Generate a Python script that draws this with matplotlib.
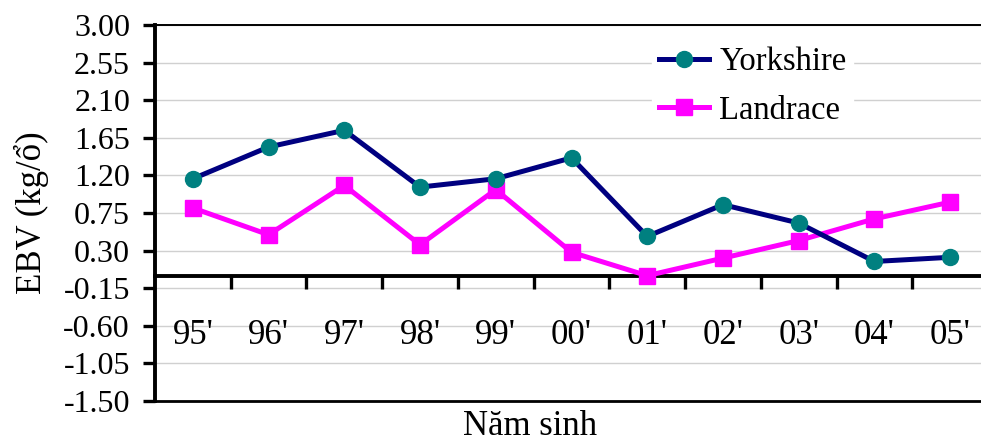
import matplotlib
matplotlib.use("Agg")
import matplotlib.pyplot as plt
import numpy as np

plt.rcParams['font.family'] = ['Liberation Serif', 'DejaVu Serif']

years = ["95'", "96'", "97'", "98'", "99'", "00'", "01'", "02'", "03'", "04'", "05'"]
yorkshire = [1.16, 1.54, 1.74, 1.06, 1.16, 1.41, 0.47, 0.85, 0.63, 0.17, 0.22]
landrace = [0.81, 0.49, 1.08, 0.37, 1.03, 0.28, 0.00, 0.21, 0.42, 0.68, 0.88]
yticks = [3.00, 2.55, 2.10, 1.65, 1.20, 0.75, 0.30, -0.15, -0.60, -1.05, -1.50]

fig = plt.figure(figsize=(9.81, 4.43), dpi=100)
ax = fig.add_axes([155 / 981, 1 - 401 / 443, 833 / 981, 376 / 443])

x = np.arange(len(years))
ax.plot(x, yorkshire, color='#000080', lw=3.6, marker='o', ms=11.5,
        mfc='#008080', mec='#008080', label='Yorkshire', zorder=4)
ax.plot(x, landrace, color='#FF00FF', lw=3.6, marker='s', ms=12,
        mfc='#FF00FF', mec='#FF00FF', label='Landrace', zorder=3)

ax.set_xlim(-0.5, len(years) - 0.5)
ax.set_ylim(-1.5, 3.0)
ax.set_yticks(yticks)
ax.set_yticklabels([f"{v:.2f}" for v in yticks])
ax.yaxis.grid(True, color='#D0D0D0', lw=1)
ax.set_axisbelow(True)

ax.set_xticks(x)
ax.set_xticklabels(years)
ax.set_xticks(np.arange(0.5, len(years) - 1, 1), minor=True)
ax.tick_params(axis='x', which='major', length=0, pad=31, labelsize=25)
ax.tick_params(axis='x', which='minor', length=9, width=2.4, direction='out')
ax.tick_params(axis='y', length=9, width=2.4, direction='out', pad=9, labelsize=23)
# labels sit on a white patch over the gridline, like the original
for lbl in ax.get_xticklabels():
    lbl.set_bbox(dict(facecolor='white', edgecolor='none', pad=1))
ax.xaxis.set_zorder(0.7)  # draw x labels after the y gridlines

ax.spines['bottom'].set_position(('data', 0))
ax.spines['bottom'].set_linewidth(2.8)
ax.spines['left'].set_linewidth(2.8)
ax.spines['top'].set_linewidth(1.4)
ax.spines['right'].set_visible(False)
ax.axhline(-1.5, color='black', lw=2, clip_on=False)

ax.set_ylabel('EBV (kg/ổ)', fontsize=25, labelpad=10)
fig.text(0.54, 0.0, 'Năm sinh', fontsize=25, ha='center', va='bottom')

leg = ax.legend(loc='upper left', bbox_to_anchor=(636 / 981, 1 - 24 / 443),
                bbox_transform=fig.transFigure, fontsize=23.5, frameon=True,
                handlelength=1.55, handletextpad=0.3, labelspacing=0.55,
                borderpad=0.2, fancybox=False)
leg.get_frame().set_edgecolor('white')
leg.get_frame().set_facecolor('white')
leg.get_frame().set_alpha(1)

fig.savefig('out.png', dpi=100)
